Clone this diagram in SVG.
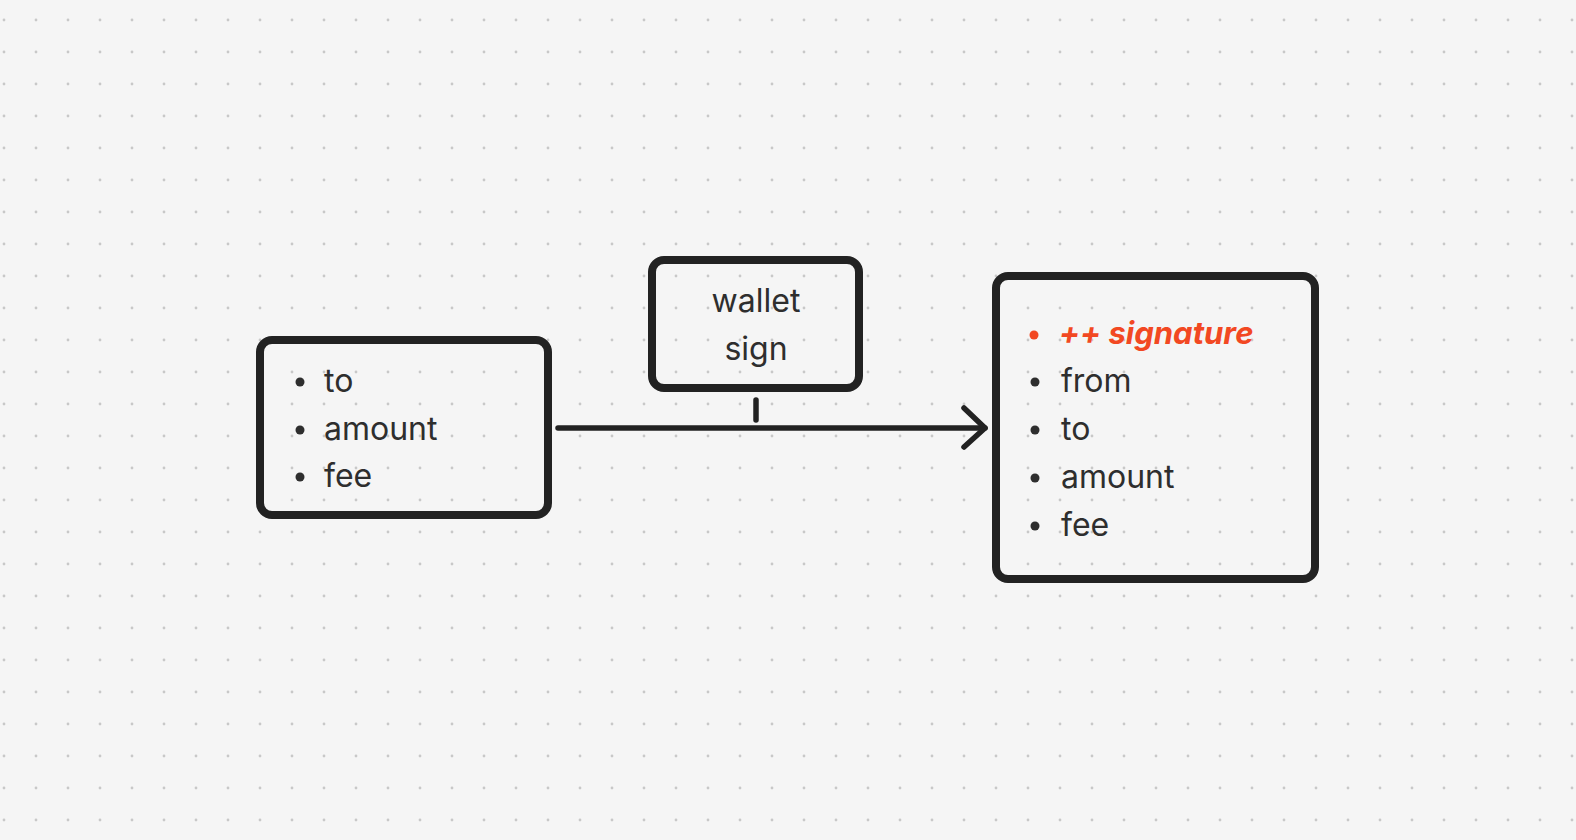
<svg xmlns="http://www.w3.org/2000/svg" width="1576" height="840" viewBox="0 0 1576 840">
  <defs>
    <pattern id="dots" x="0" y="0" width="32" height="32" patternUnits="userSpaceOnUse">
      <circle cx="4" cy="20" r="1.4" fill="#c8c8c8"/>
    </pattern>
  </defs>
  <style>
    .box { fill: none; stroke: #222222; stroke-width: 8; }
    .txt { font-family: Inter, "Noto Sans", "Liberation Sans", sans-serif; font-size: 32px; fill: #2e2e2e; }
    .sig { font-family: Inter, "Noto Sans", "Liberation Sans", sans-serif; font-size: 31px; font-weight: bold; font-style: italic; fill: #f24822; }
    .bul { fill: #2e2e2e; }
    .conn { fill: none; stroke: #222222; stroke-width: 5.5; stroke-linecap: round; stroke-linejoin: round; }
  </style>
  <rect width="1576" height="840" fill="#f5f5f5"/>
  <rect width="1576" height="840" fill="url(#dots)"/>

  <g id="connectors">
    <line class="conn" x1="558" y1="428" x2="985" y2="428"/>
    <polyline class="conn" points="964,408 985,428 964,447"/>
    <line class="conn" x1="756" y1="400" x2="756" y2="420"/>
  </g>

  <g id="input">
    <rect class="box" x="260" y="340" width="288" height="175" rx="12"/>
    <circle class="bul" cx="300" cy="382" r="4.5"/>
    <circle class="bul" cx="300" cy="430" r="4.5"/>
    <circle class="bul" cx="300" cy="477" r="4.5"/>
    <text class="txt" x="324" y="392">to</text>
    <text class="txt" x="324" y="440">amount</text>
    <text class="txt" x="324" y="487">fee</text>
  </g>

  <g id="wallet">
    <rect class="box" x="652" y="260" width="207" height="128" rx="12"/>
    <text class="txt" x="756" y="312" text-anchor="middle">wallet</text>
    <text class="txt" x="756" y="360" text-anchor="middle">sign</text>
  </g>

  <g id="output">
    <rect class="box" x="996" y="276" width="319" height="303" rx="12"/>
    <circle cx="1034" cy="335" r="4.5" fill="#f24822"/>
    <circle class="bul" cx="1035" cy="382" r="4.5"/>
    <circle class="bul" cx="1035" cy="430" r="4.5"/>
    <circle class="bul" cx="1035" cy="478" r="4.5"/>
    <circle class="bul" cx="1035" cy="526" r="4.5"/>
    <text class="sig" x="1059" y="344">++ signature</text>
    <text class="txt" x="1061" y="392">from</text>
    <text class="txt" x="1061" y="440">to</text>
    <text class="txt" x="1061" y="488">amount</text>
    <text class="txt" x="1061" y="536">fee</text>
  </g>
</svg>
